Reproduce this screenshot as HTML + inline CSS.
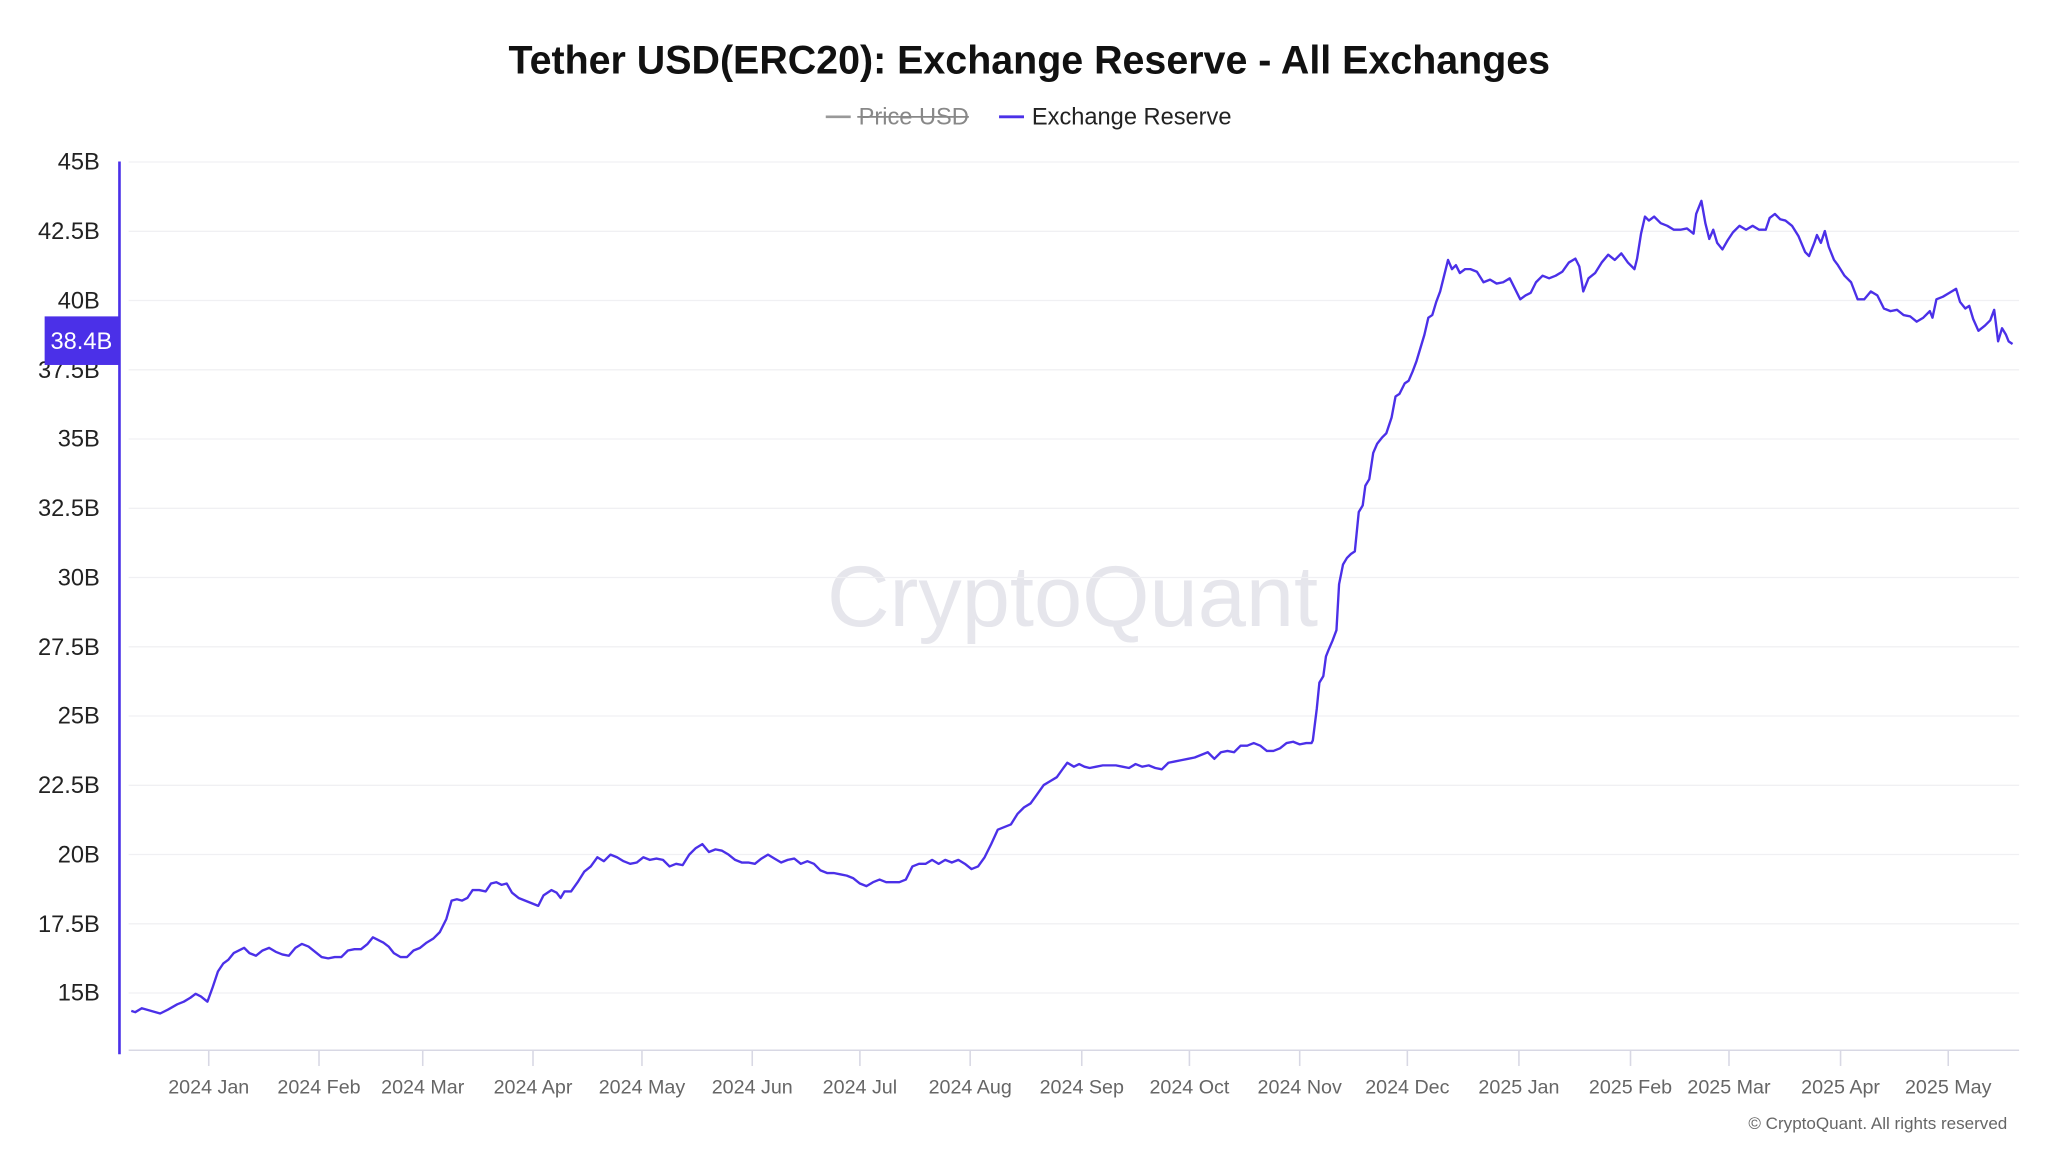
<!DOCTYPE html>
<html><head><meta charset="utf-8"><style>html,body{margin:0;padding:0;background:#fff}svg{display:block}</style></head><body>
<svg width="2048" height="1152" viewBox="0 0 1560 877.5" xmlns="http://www.w3.org/2000/svg" font-family="Liberation Sans, DejaVu Sans, sans-serif">
<rect width="1560" height="877.5" fill="#fff"/>
<text x="784" y="56" text-anchor="middle" font-size="30" font-weight="bold" fill="#111">Tether USD(ERC20): Exchange Reserve - All Exchanges</text>
<line x1="629" y1="89" x2="648" y2="89" stroke="#999" stroke-width="2"/>
<text x="654" y="95" font-size="18" fill="#888">Price USD</text>
<line x1="653" y1="89" x2="738" y2="89" stroke="#888" stroke-width="1.3"/>
<line x1="761" y1="89" x2="780" y2="89" stroke="#4b30e8" stroke-width="2.2"/>
<text x="786" y="95" font-size="18" fill="#222">Exchange Reserve</text>
<text x="817" y="477" text-anchor="middle" font-size="66" fill="#e6e6ec">CryptoQuant</text>
<g stroke="#f0f0f3" stroke-width="1">
<line x1="98" x2="1538" y1="123.4" y2="123.4"/><line x1="98" x2="1538" y1="176.2" y2="176.2"/><line x1="98" x2="1538" y1="228.9" y2="228.9"/><line x1="98" x2="1538" y1="281.7" y2="281.7"/><line x1="98" x2="1538" y1="334.4" y2="334.4"/><line x1="98" x2="1538" y1="387.2" y2="387.2"/><line x1="98" x2="1538" y1="439.9" y2="439.9"/><line x1="98" x2="1538" y1="492.7" y2="492.7"/><line x1="98" x2="1538" y1="545.4" y2="545.4"/><line x1="98" x2="1538" y1="598.2" y2="598.2"/><line x1="98" x2="1538" y1="650.9" y2="650.9"/><line x1="98" x2="1538" y1="703.7" y2="703.7"/><line x1="98" x2="1538" y1="756.4" y2="756.4"/>
</g>
<g font-size="18" fill="#222" text-anchor="end">
<text x="76" y="129">45B</text><text x="76" y="182">42.5B</text><text x="76" y="235">40B</text><text x="76" y="288">37.5B</text><text x="76" y="340">35B</text><text x="76" y="393">32.5B</text><text x="76" y="446">30B</text><text x="76" y="499">27.5B</text><text x="76" y="551">25B</text><text x="76" y="604">22.5B</text><text x="76" y="657">20B</text><text x="76" y="710">17.5B</text><text x="76" y="762">15B</text>
</g>
<line x1="98" y1="800" x2="1538" y2="800" stroke="#d8d8e4" stroke-width="1.2"/>
<g stroke="#d8d8e4" stroke-width="1.2">
<line x1="159" x2="159" y1="800" y2="812"/><line x1="243" x2="243" y1="800" y2="812"/><line x1="322" x2="322" y1="800" y2="812"/><line x1="406" x2="406" y1="800" y2="812"/><line x1="489" x2="489" y1="800" y2="812"/><line x1="573" x2="573" y1="800" y2="812"/><line x1="655" x2="655" y1="800" y2="812"/><line x1="739" x2="739" y1="800" y2="812"/><line x1="824" x2="824" y1="800" y2="812"/><line x1="906" x2="906" y1="800" y2="812"/><line x1="990" x2="990" y1="800" y2="812"/><line x1="1072" x2="1072" y1="800" y2="812"/><line x1="1157" x2="1157" y1="800" y2="812"/><line x1="1242" x2="1242" y1="800" y2="812"/><line x1="1317" x2="1317" y1="800" y2="812"/><line x1="1402" x2="1402" y1="800" y2="812"/><line x1="1484" x2="1484" y1="800" y2="812"/>
</g>
<g font-size="15" fill="#666" text-anchor="middle">
<text x="159" y="833">2024 Jan</text><text x="243" y="833">2024 Feb</text><text x="322" y="833">2024 Mar</text><text x="406" y="833">2024 Apr</text><text x="489" y="833">2024 May</text><text x="573" y="833">2024 Jun</text><text x="655" y="833">2024 Jul</text><text x="739" y="833">2024 Aug</text><text x="824" y="833">2024 Sep</text><text x="906" y="833">2024 Oct</text><text x="990" y="833">2024 Nov</text><text x="1072" y="833">2024 Dec</text><text x="1157" y="833">2025 Jan</text><text x="1242" y="833">2025 Feb</text><text x="1317" y="833">2025 Mar</text><text x="1402" y="833">2025 Apr</text><text x="1484" y="833">2025 May</text>
</g>
<text x="1529" y="860" text-anchor="end" font-size="13" fill="#666">© CryptoQuant. All rights reserved</text>
<line x1="91" y1="123" x2="91" y2="803" stroke="#4b30e8" stroke-width="2"/>
<rect x="34" y="241" width="57" height="37" fill="#4b30e8"/>
<text x="62" y="266" text-anchor="middle" font-size="18" fill="#fff">38.4B</text>
<polyline fill="none" stroke="#4b30e8" stroke-width="1.8" stroke-linejoin="round" points="100,770 103,771 108,768 115,770 122,772 128,769 135,765 140,763 145,760 149,757 153,759 158,763 162,752 166,740 170,734 174,731 178,726 182,724 186,722 190,726 195,728 200,724 205,722 210,725 215,727 220,728 225,722 230,719 235,721 240,725 245,729 250,730 255,729 260,729 265,724 270,723 275,723 280,719 284,714 288,716 292,718 296,721 300,726 305,729 310,729 315,724 320,722 325,718 330,715 335,710 340,700 344,686 348,685 352,686 356,684 360,678 365,678 370,679 374,673 378,672 382,674 386,673 390,680 395,684 400,686 405,688 410,690 414,682 420,678 424,680 427,684 430,679 435,679 440,672 445,664 450,660 455,653 460,656 465,651 470,653 475,656 480,658 485,657 490,653 495,655 500,654 505,655 510,660 515,658 520,659 525,651 530,646 535,643 540,649 545,647 550,648 555,651 560,655 565,657 570,657 575,658 580,654 585,651 590,654 595,657 600,655 605,654 610,658 615,656 620,658 625,663 630,665 635,665 640,666 645,667 650,669 655,673 660,675 665,672 670,670 675,672 680,672 685,672 690,670 695,660 700,658 705,658 710,655 715,658 720,655 725,657 730,655 735,658 740,662 745,660 750,653 755,643 760,632 765,630 770,628 775,620 780,615 785,612 790,605 795,598 800,595 805,592 810,585 813,581 818,584 822,582 826,584 830,585 835,584 840,583 845,583 850,583 855,584 860,585 865,582 870,584 875,583 880,585 885,586 890,581 895,580 900,579 905,578 910,577 915,575 920,573 925,578 930,573 935,572 940,573 945,568 950,568 955,566 960,568 965,572 970,572 975,570 980,566 985,565 990,567 995,566 999,566 1000,564 1003,540 1005,520 1008,515 1010,500 1012,495 1015,488 1018,480 1020,445 1023,430 1026,425 1029,422 1032,420 1035,390 1038,385 1040,370 1043,365 1046,345 1049,338 1053,333 1056,330 1060,318 1063,302 1066,300 1070,292 1073,290 1076,283 1079,275 1082,265 1085,255 1088,242 1091,240 1094,230 1097,222 1100,210 1103,198 1106,205 1109,202 1112,208 1116,205 1120,205 1125,207 1130,215 1135,213 1140,216 1145,215 1150,212 1155,222 1158,228 1162,225 1166,223 1170,215 1175,210 1180,212 1185,210 1190,207 1195,200 1200,197 1203,203 1206,222 1210,212 1215,208 1220,200 1225,194 1230,198 1235,193 1240,200 1245,205 1247,197 1250,178 1253,165 1256,168 1260,165 1265,170 1270,172 1275,175 1280,175 1285,174 1290,178 1292,163 1296,153 1299,170 1302,182 1305,175 1308,185 1312,190 1316,183 1320,177 1325,172 1330,175 1335,172 1340,175 1345,175 1348,166 1352,163 1356,167 1360,168 1365,172 1370,180 1375,192 1378,195 1382,185 1384,179 1387,185 1390,176 1393,188 1397,198 1400,202 1405,210 1410,215 1415,228 1420,228 1425,222 1430,225 1435,235 1440,237 1445,236 1450,240 1455,241 1460,245 1465,242 1470,237 1472,242 1475,228 1480,226 1485,223 1490,220 1493,230 1497,235 1500,233 1503,243 1507,252 1512,248 1516,244 1519,236 1522,260 1525,250 1528,255 1530,260 1533,262"/>
</svg>
</body></html>
